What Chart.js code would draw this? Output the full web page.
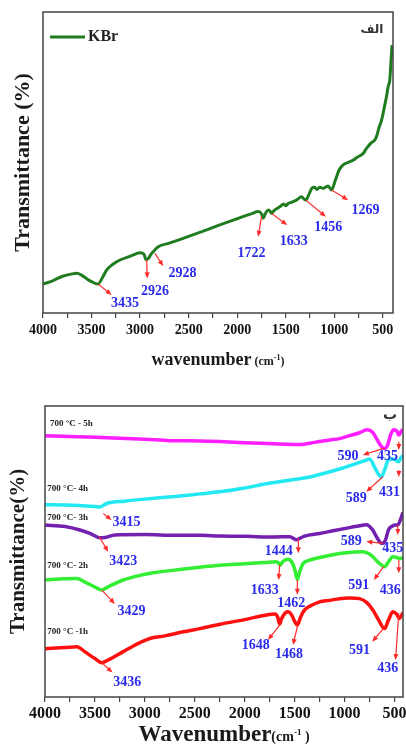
<!DOCTYPE html>
<html>
<head>
<meta charset="utf-8">
<script src="https://cdn.jsdelivr.net/npm/chart.js@4.4.0/dist/chart.umd.min.js"></script>
<style>
  html, body { margin: 0; padding: 0; background: #fff; }
  #wrap { position: relative; width: 406px; height: 744px; }
  canvas { position: absolute; left: 0; }
  #kbr { top: 0; }
  #heat { top: 372px; }
</style>
</head>
<body>
<div id="wrap">
  <canvas id="kbr" width="406" height="372"></canvas>
  <canvas id="heat" width="406" height="372"></canvas>
</div>
<script>
var FONT = 'Liberation Serif';

// x ticks (cm-1), labels only on the 500 steps
var tickValues = [500, 750, 1000, 1250, 1500, 1750, 2000, 2250, 2500, 2750, 3000, 3250, 3500, 3750, 4000];

// top panel: KBr
var kbrWave = [4000, 3900, 3800, 3700, 3650, 3600, 3550, 3500, 3435, 3380, 3344, 3280, 3207, 3100, 3000, 2960, 2940, 2910, 2898, 2864, 2813, 2700, 2600, 2400, 2200, 2000, 1850, 1783, 1750, 1732, 1710, 1681, 1660, 1646, 1620, 1560, 1520, 1500, 1475, 1440, 1389, 1337, 1310, 1293, 1260, 1230, 1200, 1180, 1150, 1114, 1080, 1063, 1028, 990, 950, 909, 860, 806, 760, 703, 668, 620, 582, 565, 540, 513, 480, 462, 445, 428, 415, 405];
var kbrT = [9.6, 10.7, 12.2, 13.0, 13.2, 12.5, 11.4, 10.4, 9.6, 12.2, 14.3, 16.2, 17.6, 18.9, 20.0, 19.5, 17.8, 18.3, 19.0, 20.4, 22.0, 23.2, 24.3, 26.6, 29.0, 31.3, 33.0, 33.7, 33.0, 31.5, 33.0, 34.2, 33.8, 33.1, 34.0, 35.3, 36.2, 35.6, 36.4, 36.8, 37.5, 38.6, 37.8, 37.5, 39.5, 41.5, 41.8, 41.0, 41.8, 41.4, 42.0, 42.2, 40.9, 44.0, 47.5, 49.2, 50.0, 50.8, 51.8, 53.0, 54.7, 56.5, 57.5, 58.6, 61.5, 64.0, 69.0, 71.9, 75.2, 77.4, 84.0, 89.0];

// bottom panel: 700 C for 1..5 h
var h5Wave = [4000, 3500, 3000, 2750, 2450, 2250, 2000, 1700, 1450, 1300, 1150, 1050, 950, 850, 775, 720, 680, 640, 600, 570, 540, 510, 480, 457, 435, 415];
var h5T = [89.8, 89.3, 88.6, 88.1, 88.0, 87.8, 87.4, 87.0, 86.8, 87.5, 88.3, 88.8, 89.8, 90.8, 91.8, 91.0, 88.8, 86.5, 85.4, 86.5, 90.0, 91.8, 91.5, 90.0, 91.2, 92.0];

var h4Wave = [4000, 3800, 3650, 3500, 3450, 3383, 3200, 3000, 2700, 2450, 2250, 2000, 1783, 1550, 1350, 1200, 1017, 900, 783, 750, 700, 660, 630, 600, 560, 520, 480, 460, 440, 415];
var h4T = [66.1, 66.0, 65.8, 65.5, 65.3, 66.5, 67.3, 68.0, 68.9, 69.8, 70.5, 71.8, 73.3, 74.5, 75.6, 76.9, 78.7, 80.0, 81.4, 81.8, 79.0, 76.5, 75.6, 78.0, 81.5, 81.8, 81.2, 80.8, 82.0, 83.0];

var h3Wave = [4000, 3800, 3650, 3550, 3450, 3400, 3300, 3000, 2700, 2450, 2250, 2000, 1700, 1550, 1480, 1460, 1400, 1250, 1117, 950, 820, 783, 720, 680, 640, 617, 590, 560, 520, 490, 467, 440, 415];
var h3T = [59.1, 58.6, 57.4, 56.2, 54.7, 54.8, 55.7, 55.8, 55.6, 55.6, 55.3, 55.2, 55.0, 55.1, 54.0, 54.3, 55.3, 56.2, 57.1, 58.2, 59.0, 59.2, 57.5, 55.0, 53.0, 52.8, 54.0, 57.5, 58.8, 59.1, 59.1, 61.0, 63.5];

var h2Wave = [4000, 3800, 3680, 3600, 3500, 3433, 3350, 3217, 3050, 2917, 2700, 2450, 2250, 2000, 1800, 1683, 1660, 1643, 1620, 1567, 1530, 1500, 1473, 1450, 1417, 1350, 1200, 1050, 900, 817, 760, 717, 660, 600, 560, 517, 480, 450, 415];
var h2T = [40.2, 40.6, 40.7, 39.5, 37.8, 36.8, 38.2, 40.2, 41.8, 42.7, 43.6, 44.6, 45.3, 45.8, 46.2, 46.5, 46.0, 45.3, 46.5, 47.3, 46.5, 44.0, 40.4, 43.0, 45.8, 47.0, 48.3, 49.3, 49.8, 49.9, 49.3, 48.2, 46.2, 44.8, 46.5, 48.2, 48.0, 47.6, 48.0];

var h1Wave = [4000, 3800, 3680, 3600, 3500, 3433, 3350, 3217, 3100, 2950, 2800, 2617, 2450, 2250, 2000, 1783, 1700, 1670, 1650, 1630, 1590, 1567, 1530, 1500, 1473, 1440, 1400, 1330, 1250, 1150, 1050, 950, 850, 780, 717, 660, 600, 560, 517, 480, 450, 415];
var h1T = [16.6, 17.0, 17.3, 15.5, 13.2, 11.8, 13.0, 15.6, 17.8, 20.1, 21.0, 22.4, 23.5, 25.0, 26.6, 28.2, 28.5, 27.5, 25.1, 27.0, 29.0, 29.3, 28.2, 26.0, 24.7, 27.5, 29.9, 31.5, 32.7, 33.2, 33.8, 34.0, 33.8, 32.5, 29.9, 26.5, 23.5, 26.5, 29.3, 28.5, 27.0, 29.0];

var heatNames = ['700 °C - 5h', '700 °C- 4h', '700 °C- 3h', '700 °C- 2h', '700 °C -1h'];

// peak callouts: arrow from -> to, label at (wavenumber, value)
var kbrNotes = [
  { text: '3435', from: [3431, 9.6], to: [3293, 6.0], at: [3156, 3.3] },
  { text: '2926', from: [2932, 17.6], to: [2926, 11.5], at: [2847, 7.1] },
  { text: '2928', from: [2847, 19.8], to: [2762, 15.6], at: [2562, 13.0] },
  { text: '1722', from: [1749, 32.0], to: [1784, 25.3], at: [1852, 19.8] },
  { text: '1633', from: [1646, 33.1], to: [1485, 29.2], at: [1416, 23.7] },
  { text: '1456', from: [1293, 37.5], to: [1087, 32.0], at: [1063, 28.5] },
  { text: '1269', from: [1028, 40.9], to: [857, 37.5], at: [678, 34.0] }
];
var heatNotes = [
  { text: '590', from: [600, 85.5], to: [817, 83.2], at: [967, 82.6] },
  { text: '435', from: [457, 87.7], to: [457, 84.9], at: [570, 82.6] },
  { text: '3415', from: [3417, 63.1], to: [3333, 60.8], at: [3183, 60.0] },
  { text: '589', from: [617, 75.7], to: [783, 70.5], at: [883, 68.3] },
  { text: '431', from: [457, 78.0], to: [457, 75.6], at: [550, 70.4] },
  { text: '3423', from: [3457, 55.1], to: [3367, 49.9], at: [3217, 46.5] },
  { text: '1444', from: [1463, 54.5], to: [1463, 49.4], at: [1660, 49.9] },
  { text: '589', from: [617, 52.8], to: [783, 53.4], at: [933, 53.4] },
  { text: '435', from: [467, 59.1], to: [467, 55.7], at: [517, 51.1] },
  { text: '3429', from: [3433, 36.8], to: [3300, 32.0], at: [3133, 29.3] },
  { text: '1633', from: [1650, 45.4], to: [1660, 40.2], at: [1800, 36.8] },
  { text: '1462', from: [1473, 40.2], to: [1473, 35.1], at: [1533, 32.0] },
  { text: '591', from: [610, 44.8], to: [707, 40.2], at: [857, 38.5] },
  { text: '436', from: [457, 47.1], to: [457, 42.5], at: [543, 36.8] },
  { text: '3436', from: [3433, 11.8], to: [3323, 8.4], at: [3177, 4.9] },
  { text: '1648', from: [1650, 24.7], to: [1767, 19.6], at: [1890, 17.9] },
  { text: '1468', from: [1473, 24.2], to: [1517, 17.9], at: [1557, 14.8] },
  { text: '591', from: [610, 23.6], to: [723, 19.0], at: [850, 15.9] },
  { text: '436', from: [457, 28.8], to: [490, 12.7], at: [567, 9.9] }
];
var heatNameAt = [[3950, 93.8], [3977, 71.7], [3977, 61.6], [3977, 45.0], [3977, 22.4]];

function pts(w, t) {
  return w.map(function (v, i) { return { x: v, y: t[i] }; });
}

function line(data, color, width) {
  return { data: data, borderColor: color, borderWidth: width, pointRadius: 0,
    cubicInterpolationMode: 'monotone', fill: false };
}

function xScale(min, size, pad, h) {
  return {
    type: 'linear', reverse: true, min: min, max: 4000,
    afterBuildTicks: function (s) { s.ticks = tickValues.map(function (v) { return { value: v }; }); },
    afterFit: function (s) { s.height = h; },
    ticks: { autoSkip: false, maxRotation: 0, padding: pad, color: '#111',
      font: { family: FONT, weight: 'bold', size: size },
      callback: function (v) { return v % 500 === 0 ? String(v) : ''; } },
    grid: { drawOnChartArea: false, drawTicks: true, tickLength: 5, color: '#444', lineWidth: 1.2 },
    border: { display: false }
  };
}

function yScale(title, size, pad, w) {
  return {
    type: 'linear', min: 0, max: 100,
    afterFit: function (s) { s.width = w; },
    ticks: { display: false }, grid: { display: false }, border: { display: false },
    title: { display: true, text: title, color: '#1a1a1a', padding: { top: pad, bottom: 0 },
      font: { family: FONT, weight: 'bold', size: size } }
  };
}

function arrow(ctx, x1, y1, x2, y2) {
  var a = Math.atan2(y2 - y1, x2 - x1);
  ctx.strokeStyle = '#ff2a2a'; ctx.fillStyle = '#ff2a2a'; ctx.lineWidth = 1.2;
  ctx.beginPath(); ctx.moveTo(x1, y1); ctx.lineTo(x2 - 3 * Math.cos(a), y2 - 3 * Math.sin(a)); ctx.stroke();
  ctx.beginPath();
  ctx.moveTo(x2, y2);
  ctx.lineTo(x2 - 6 * Math.cos(a) + 2.5 * Math.sin(a), y2 - 6 * Math.sin(a) - 2.5 * Math.cos(a));
  ctx.lineTo(x2 - 6 * Math.cos(a) - 2.5 * Math.sin(a), y2 - 6 * Math.sin(a) + 2.5 * Math.cos(a));
  ctx.closePath(); ctx.fill();
}

// frame, callouts, in-plot labels and the x title with its small unit
function extras(cfg) {
  return {
    id: 'extras',
    afterDatasetsDraw: function (chart) {
      var ctx = chart.ctx, a = chart.chartArea, xs = chart.scales.x, ys = chart.scales.y;
      ctx.save();
      ctx.strokeStyle = '#444'; ctx.lineWidth = 1.5;
      ctx.strokeRect(a.left, a.top, a.right - a.left, a.bottom - a.top);

      cfg.notes.forEach(function (n) {
        arrow(ctx, xs.getPixelForValue(n.from[0]), ys.getPixelForValue(n.from[1]),
          xs.getPixelForValue(n.to[0]), ys.getPixelForValue(n.to[1]));
        ctx.fillStyle = '#2b2bea'; ctx.font = 'bold 14px ' + FONT;
        ctx.textAlign = 'center'; ctx.textBaseline = 'middle';
        ctx.fillText(n.text, xs.getPixelForValue(n.at[0]), ys.getPixelForValue(n.at[1]));
      });

      if (cfg.names) {
        ctx.fillStyle = '#222'; ctx.font = 'bold 9px ' + FONT;
        ctx.textAlign = 'left'; ctx.textBaseline = 'middle';
        cfg.names.forEach(function (t, i) {
          ctx.fillText(t, xs.getPixelForValue(cfg.nameAt[i][0]), ys.getPixelForValue(cfg.nameAt[i][1]));
        });
      }

      if (cfg.legend) {
        ctx.strokeStyle = cfg.legend.color; ctx.lineWidth = 3;
        ctx.beginPath(); ctx.moveTo(a.left + 7, a.top + 25); ctx.lineTo(a.left + 42, a.top + 25); ctx.stroke();
        ctx.fillStyle = '#222'; ctx.font = 'bold 16px ' + FONT;
        ctx.textAlign = 'left'; ctx.textBaseline = 'middle';
        ctx.fillText(cfg.legend.text, a.left + 45, a.top + 25);
      }

      ctx.fillStyle = '#333'; ctx.font = 'bold ' + cfg.mark.size + 'px "DejaVu Sans"';
      ctx.textAlign = 'center'; ctx.textBaseline = 'middle';
      ctx.fillText(cfg.mark.text, a.right - cfg.mark.dx, a.top + cfg.mark.dy);

      // x title: big word + small (cm-1)
      var t = cfg.xTitle, cx = (a.left + a.right) / 2, parts = [
        { s: t.word, f: 'bold ' + t.big + 'px ' + FONT, dy: 0 },
        { s: t.pre, f: 'bold ' + t.small + 'px ' + FONT, dy: 0 },
        { s: '-1', f: 'bold ' + Math.round(t.small * 0.65) + 'px ' + FONT, dy: -t.small * 0.45 },
        { s: t.post, f: 'bold ' + t.small + 'px ' + FONT, dy: 0 }
      ];
      var total = 0;
      parts.forEach(function (p) { ctx.font = p.f; p.w = ctx.measureText(p.s).width; total += p.w; });
      var x = cx - total / 2;
      ctx.fillStyle = '#1a1a1a'; ctx.textAlign = 'left'; ctx.textBaseline = 'alphabetic';
      parts.forEach(function (p) { ctx.font = p.f; ctx.fillText(p.s, x, t.base + p.dy); x += p.w; });
      ctx.restore();
    }
  };
}

Chart.defaults.font.family = FONT;

new Chart(document.getElementById('kbr'), {
  type: 'line',
  data: { datasets: [line(pts(kbrWave, kbrT), '#1f7d1f', 3)] },
  options: {
    responsive: false, animation: false,
    layout: { padding: { top: 12, right: 13, left: 0, bottom: 0 } },
    plugins: { legend: { display: false }, tooltip: { enabled: false } },
    scales: { x: xScale(395, 14, 4, 59), y: yScale('Transmittance (%)', 22, 10, 43) }
  },
  plugins: [extras({
    notes: kbrNotes,
    legend: { text: 'KBr', color: '#1f7d1f' },
    mark: { text: 'الف', size: 12, dx: 21, dy: 18 },
    xTitle: { word: 'wavenumber', pre: ' (cm', post: ')', big: 18, small: 12, base: 365 }
  })]
});

new Chart(document.getElementById('heat'), {
  type: 'line',
  data: { datasets: [
    line(pts(h5Wave, h5T), '#ff1eff', 3.5),
    line(pts(h4Wave, h4T), '#22e8f2', 3.5),
    line(pts(h3Wave, h3T), '#7420b0', 3.5),
    line(pts(h2Wave, h2T), '#33ee33', 3.5),
    line(pts(h1Wave, h1T), '#ff1010', 3.5)
  ] },
  options: {
    responsive: false, animation: false,
    layout: { padding: { top: 34, right: 3, left: 0, bottom: 0 } },
    plugins: { legend: { display: false }, tooltip: { enabled: false } },
    scales: { x: xScale(415, 16, 2, 47), y: yScale('Transmittance(%)', 21, 6, 45) }
  },
  plugins: [extras({
    notes: heatNotes, names: heatNames, nameAt: heatNameAt,
    mark: { text: 'ب', size: 14, dx: 13, dy: 9 },
    xTitle: { word: 'Wavenumber', pre: '(cm', post: ' )', big: 23, small: 14, base: 369 }
  })]
});
</script>
</body>
</html>
